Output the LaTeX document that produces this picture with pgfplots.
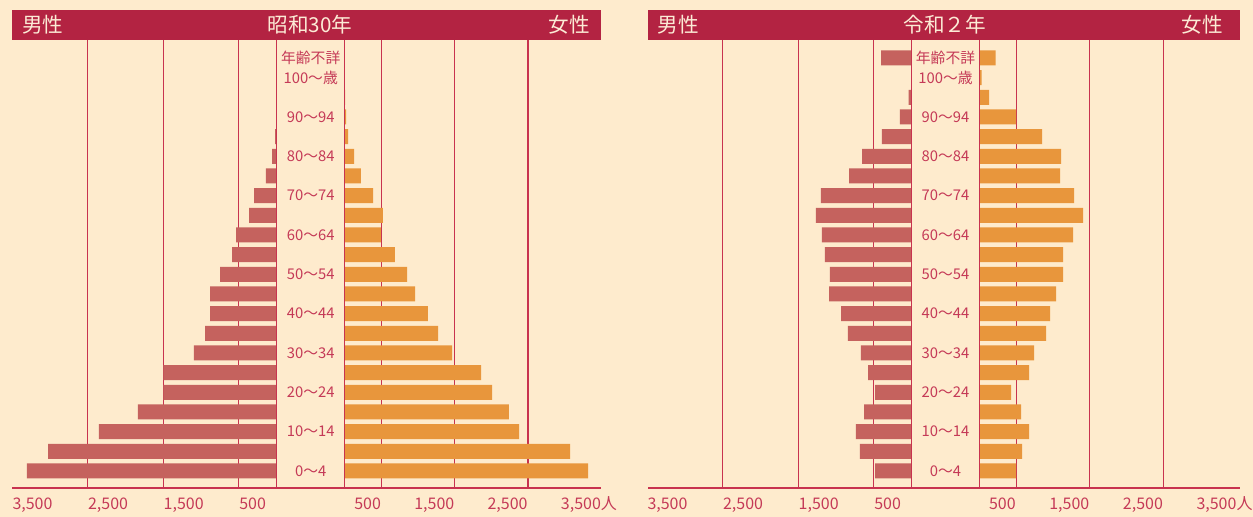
\documentclass[border=0pt]{standalone}
\usepackage{fontspec}
\setmainfont{Noto Sans CJK JP}
\usepackage{pgfplots}
\usepackage{pgfplotstable}
\pgfplotsset{compat=1.18}
\definecolor{cbg}{HTML}{FEEBCD}
\definecolor{chdr}{HTML}{B32342}
\definecolor{cmale}{HTML}{C5625E}
\definecolor{cfemale}{HTML}{E8963C}
\definecolor{cgrid}{HTML}{C8334F}
\definecolor{clbl}{HTML}{C53A57}
\definecolor{chdrtxt}{HTML}{FCEBD6}

% age group index: 0 = 0-4, ..., 19 = 95-99, 20 = 100+, 21 = unknown
\pgfplotstableread{
age m f
0 3303 3319
1 3025 3074
2 2351 2378
3 1835 2241
4 1500 2010
5 1500 1860
6 1094 1464
7 948 1273
8 882 1136
9 882 959
10 750 850
11 591 686
12 538 495
13 366 522
14 300 386
15 142 222
16 62 127
17 22 45
18 9 18
19 6 5
20 0 0
21 0 0
}\showa

\pgfplotstableread{
age m f
0 485 499
1 684 581
2 737 676
3 631 567
4 485 431
5 578 676
6 671 744
7 843 907
8 935 962
9 1094 1044
10 1081 1139
11 1147 1139
12 1187 1275
13 1266 1411
14 1200 1288
15 829 1098
16 657 1112
17 393 853
18 155 499
19 42 135
20 4 30
21 406 220
}\reiwa

\pgfplotsset{
  pyr/.style={
    scale only axis, height=224pt,
    xmin=0, xmax=3500, ymin=-0.8644, ymax=21.915,
    xbar, bar width=7.5pt,
    axis line style={draw=none},
    major tick length=0pt,
    xtick={500,1500,2500},
    xmajorgrids, grid style={draw=cgrid, line width=0.55pt},
    extra x ticks={3500},
    extra x tick style={grid=none},
    xticklabel style={font=\fontsize{8}{9}\selectfont, text=clbl, inner xsep=0pt, inner ysep=0pt, yshift=-4.5pt},
    ytick=\empty,
    clip=false,
  },
  malepyr/.style={pyr, width=132.3pt, x dir=reverse,
    xticklabels={500,1{,}500,2{,}500},
    extra x tick labels={3{,}500},
    xticklabel style={anchor=north west},
  },
  femalepyr/.style={pyr,
    xticklabels={500,1{,}500,2{,}500},
    extra x tick labels={3{,}500\rlap{\smash{人}}},
    xticklabel style={anchor=north east},
    ytick={0,2,4,6,8,10,12,14,16,18,20,21},
    yticklabels={0〜4,10〜14,20〜24,30〜34,40〜44,50〜54,60〜64,70〜74,80〜84,90〜94,100〜歳,年齢不詳},
    yticklabel style={anchor=center, font=\fontsize{7.4}{9}\selectfont, text=clbl},
  },
}

\begin{document}
\begin{tikzpicture}
\fill[cbg] (0,0) rectangle (626.5pt,258.5pt);
\useasboundingbox (0,0) rectangle (626.5pt,258.5pt);

% ---- Left panel: Showa 30 ----
\begin{axis}[malepyr, at={(138.35pt,14.5pt)}, anchor=south east]
\addplot[fill=cmale, draw=none] table[x=m, y=age] {\showa};
\end{axis}
\begin{axis}[femalepyr, width=128.3pt, at={(172.35pt,14.5pt)}, anchor=south west,
  yticklabel style={xshift=-17pt}]
\addplot[fill=cfemale, draw=none] table[x=f, y=age] {\showa};
\end{axis}

% ---- Right panel: Reiwa 2 ----
\begin{axis}[malepyr, at={(455.85pt,14.5pt)}, anchor=south east]
\addplot[fill=cmale, draw=none] table[x=m, y=age] {\reiwa};
\end{axis}
\begin{axis}[femalepyr, width=128.8pt, at={(489.65pt,14.5pt)}, anchor=south west,
  yticklabel style={xshift=-16.9pt}]
\addplot[fill=cfemale, draw=none] table[x=f, y=age] {\reiwa};
\end{axis}

% zero lines and bottom axis lines
\draw[cgrid, line width=0.6pt] (138.35pt,14.5pt) -- (138.35pt,238.5pt);
\draw[cgrid, line width=0.6pt] (172.35pt,14.5pt) -- (172.35pt,238.5pt);
\draw[cgrid, line width=0.6pt] (455.85pt,14.5pt) -- (455.85pt,238.5pt);
\draw[cgrid, line width=0.6pt] (489.65pt,14.5pt) -- (489.65pt,238.5pt);
\draw[cgrid, line width=1.1pt] (6pt,14.5pt) -- (300.5pt,14.5pt);
\draw[cgrid, line width=1.1pt] (324pt,14.5pt) -- (620pt,14.5pt);

% headers
\fill[chdr] (6pt,238.5pt) rectangle (300.5pt,253.5pt);
\fill[chdr] (324pt,238.5pt) rectangle (620pt,253.5pt);
\begin{scope}[every node/.style={inner sep=0pt, text=chdrtxt, font=\fontsize{10.3}{12}\selectfont}]
\node[anchor=west] at (10.9pt,246pt) {男性};
\node at (155pt,246pt) {昭和30年};
\node[anchor=east] at (295pt,246pt) {女性};
\node[anchor=west] at (328.5pt,246pt) {男性};
\node at (472.3pt,246pt) {令和２年};
\node[anchor=east] at (611.5pt,246pt) {女性};
\end{scope}
\end{tikzpicture}
\end{document}
